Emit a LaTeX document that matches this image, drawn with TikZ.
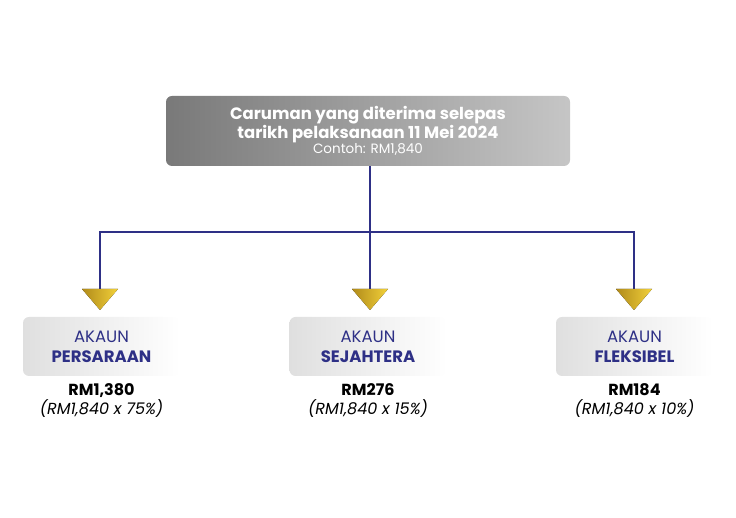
\documentclass[tikz,border=0pt]{standalone}
\usepackage{fontspec}
\setmainfont{Poppins}
\usetikzlibrary{positioning}
\definecolor{navy}{HTML}{2E3086}
\definecolor{goldA}{HTML}{F2D13A}
\definecolor{goldB}{HTML}{B08A1A}
\tikzset{
 acc/.style={rounded corners=6pt,left color=gray!25,right color=white,minimum width=157pt,minimum height=59pt,align=center,text=navy,font=\fontsize{16.5}{20}\selectfont},
 tri/.style={draw=none,left color=goldB,right color=goldA},
 con/.style={navy,line width=1.1pt},
 amt/.style={align=center,font=\fontsize{16}{19}\selectfont,inner sep=1pt}
}
\begin{document}
\begin{tikzpicture}[x=1pt,y=1pt]
\useasboundingbox (0,0) rectangle (736,518);
\node[rounded corners=6pt,left color=gray!95!black,right color=gray!45,minimum width=404pt,minimum height=70pt,align=center,text=white] (top) at (368,387)
 {\fontsize{16.5}{20}\selectfont\bfseries Caruman yang diterima selepas\\ \fontsize{16.5}{20}\selectfont\bfseries tarikh pelaksanaan 11 Mei 2024\\ \fontsize{13.5}{15}\selectfont Contoh: RM1,840};
\node[acc] (a1) at (101.5,171.5) {AKAUN\\\textbf{PERSARAAN}};
\node[acc] (a2) at (368,171.5) {AKAUN\\\textbf{SEJAHTERA}};
\node[acc] (a3) at (634.5,171.5) {AKAUN\\\textbf{FLEKSIBEL}};
\coordinate (j) at (370,286);
\coordinate (t1) at (100,229);
\coordinate (t2) at (370,229);
\coordinate (t3) at (634,229);
\draw[con] (top.south -| j) -- (j);
\draw[con] (t1) |- (j) -| (t3);
\draw[con] (j) -- (t2);
\foreach \t in {t1,t2,t3}{
 \fill[tri] ([xshift=-18pt,yshift=0pt]\t) -- ([xshift=18pt]\t) -- ([yshift=-21pt]\t) -- cycle;}
\node[amt,below=6pt of a1] (r1) {\textbf{RM1,380}\\\textit{(RM1,840 x 75\%)}};
\node[amt,below=6pt of a2] (r2) {\textbf{RM276}\\\textit{(RM1,840 x 15\%)}};
\node[amt,below=6pt of a3] (r3) {\textbf{RM184}\\\textit{(RM1,840 x 10\%)}};
\end{tikzpicture}
\end{document}
